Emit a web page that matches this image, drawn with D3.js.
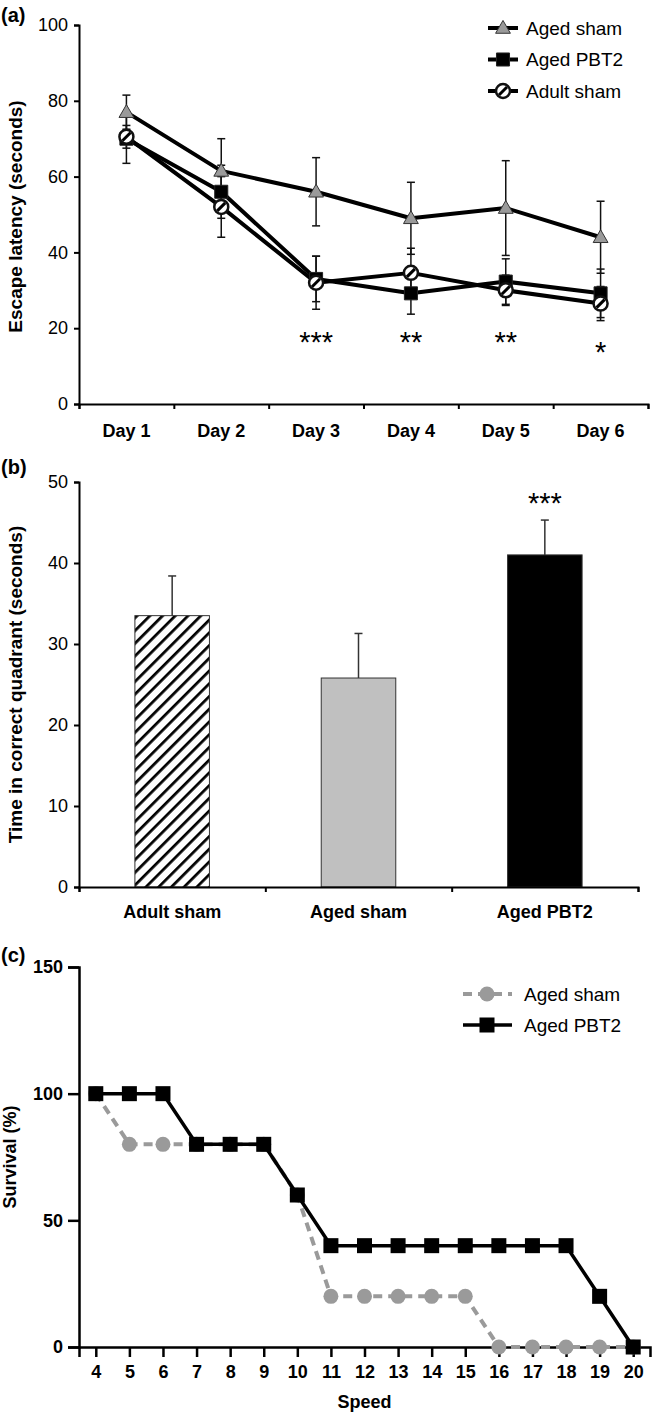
<!DOCTYPE html>
<html><head><meta charset="utf-8">
<script src="https://cdn.jsdelivr.net/npm/d3@7"></script>
<style>
body{margin:0;background:#fff;}
text{font-family:"Liberation Sans",Arial,sans-serif;fill:#000;}
</style>
</head><body>
<svg id="chart" width="653" height="1414"></svg>
<script>
// ---------- Panel (a) data ----------
const days = ["Day 1","Day 2","Day 3","Day 4","Day 5","Day 6"];
const agedSham    = [77, 61.5, 56, 49, 51.7, 44];
const agedShamErr = [4.5, 8.5, 9, 9.5, 12.5, 9.5];
const agedPBT2    = [70, 56, 33, 29.2, 32.3, 29.2];
const agedPBT2Err = [6.5, 7, 6, 5.5, 6, 6.4];
const adultSham   = [70.5, 52, 32, 34.6, 30, 26.5];
const adultShamErr= [3, 8, 7, 6.5, 4, 4.5];
const sigA = ["", "", "***", "**", "**", "*"];
const ticksA = [0, 20, 40, 60, 80, 100];

// ---------- Panel (b) data ----------
const groupsB = ["Adult sham", "Aged sham", "Aged PBT2"];
const quadrantTime = [33.5, 25.8, 41];
const quadrantErr  = [4.9, 5.5, 4.3];
const sigB = ["", "", "***"];
const ticksB = [0, 10, 20, 30, 40, 50];

// ---------- Panel (c) data ----------
const speeds = [4,5,6,7,8,9,10,11,12,13,14,15,16,17,18,19,20];
const survAgedSham = [100,80,80,80,80,80,60,20,20,20,20,20,0,0,0,0,0];
const survAgedPBT2 = [100,100,100,80,80,80,60,40,40,40,40,40,40,40,40,20,0];
const ticksC = [0, 50, 100, 150];

const svg = d3.select("#chart");
const defs = svg.append("defs");
const FONT = '"Liberation Sans",Arial,sans-serif';

function styleAxis(g, w) {
  g.select(".domain").attr("stroke", "#000").attr("stroke-width", w);
  g.selectAll(".tick line").attr("stroke", "#000").attr("stroke-width", w);
  g.selectAll("text").attr("font-family", FONT).attr("fill", "#000");
}

// ================= PANEL (a) =================
{
  const L = 79, R = 648, T = 25, B = 404;
  const x = d3.scaleBand().domain(days).range([L, R]).padding(0);
  const xb = d3.scaleLinear().domain([0, days.length]).range([L, R]);
  const y = d3.scaleLinear().domain([0, 100]).range([B, T]);

  const gy = svg.append("g").attr("transform", `translate(${L},0)`)
    .call(d3.axisLeft(y).tickValues(ticksA).tickSize(5).tickPadding(6));
  styleAxis(gy, 2);
  gy.selectAll("text").attr("font-size", 18);

  const gx = svg.append("g").attr("transform", `translate(0,${B})`)
    .call(d3.axisBottom(xb).tickValues(d3.range(0, days.length + 1)).tickSize(5).tickFormat(""));
  styleAxis(gx, 2);
  svg.append("g").selectAll("text").data(days).join("text")
    .attr("x", d => x(d) + x.bandwidth() / 2).attr("y", 437)
    .attr("text-anchor", "middle").attr("font-size", 18).attr("font-weight", "bold")
    .text(d => d);

  svg.append("text").attr("transform", `translate(22,${(T + B) / 2 + 2}) rotate(-90)`)
    .attr("text-anchor", "middle").attr("font-size", 19).attr("font-weight", "bold")
    .text("Escape latency (seconds)");
  svg.append("text").attr("x", 1).attr("y", 22).attr("font-size", 20).attr("font-weight", "bold").text("(a)");

  const cx = i => x(days[i]) + x.bandwidth() / 2;
  const series = [
    {name: "Aged sham", v: agedSham, e: agedShamErr, m: "tri"},
    {name: "Aged PBT2", v: agedPBT2, e: agedPBT2Err, m: "sq"},
    {name: "Adult sham", v: adultSham, e: adultShamErr, m: "circ"}
  ];
  // error bars
  series.forEach(s => {
    const g = svg.append("g").attr("stroke", "#111").attr("stroke-width", 1.5);
    s.v.forEach((v, i) => {
      const x0 = cx(i), y1 = y(v + s.e[i]), y2 = y(v - s.e[i]);
      g.append("line").attr("x1", x0).attr("x2", x0).attr("y1", y1).attr("y2", y2);
      g.append("line").attr("x1", x0 - 4).attr("x2", x0 + 4).attr("y1", y1).attr("y2", y1);
      g.append("line").attr("x1", x0 - 4).attr("x2", x0 + 4).attr("y1", y2).attr("y2", y2);
    });
  });
  const line = d3.line().x((d, i) => cx(i)).y(d => y(d));
  series.forEach(s => {
    svg.append("path").datum(s.v).attr("d", line).attr("fill", "none")
      .attr("stroke", "#000").attr("stroke-width", 4).attr("stroke-linejoin", "round");
  });
  function drawMarker(g, type, px, py) {
    if (type === "tri") {
      g.append("path").attr("transform", `translate(${px},${py + 1})`)
        .attr("d", d3.symbol().type(d3.symbolTriangle).size(95)())
        .attr("fill", "#9a9a9a").attr("stroke", "#333").attr("stroke-width", 1);
    } else if (type === "sq") {
      g.append("path").attr("transform", `translate(${px},${py})`)
        .attr("d", d3.symbol().type(d3.symbolSquare).size(170)())
        .attr("fill", "#000").attr("stroke", "#222").attr("stroke-width", 1);
    } else {
      g.append("circle").attr("cx", px).attr("cy", py).attr("r", 7)
        .attr("fill", "#fff").attr("stroke", "#111").attr("stroke-width", 2.5);
      g.append("line").attr("x1", px - 4).attr("y1", py + 4).attr("x2", px + 4).attr("y2", py - 4)
        .attr("stroke", "#000").attr("stroke-width", 3);
    }
  }
  series.forEach(s => {
    const g = svg.append("g");
    s.v.forEach((v, i) => drawMarker(g, s.m, cx(i), y(v)));
  });
  // significance
  svg.append("g").selectAll("text").data(sigA).join("text")
    .attr("x", (d, i) => cx(i)).attr("y", (d, i) => i === 5 ? 362 : 352)
    .attr("text-anchor", "middle").attr("font-size", 29).text(d => d);

  // legend
  const lg = svg.append("g");
  series.forEach((s, i) => {
    const ly = 28 + i * 31.5;
    lg.append("line").attr("x1", 488).attr("x2", 518).attr("y1", ly).attr("y2", ly)
      .attr("stroke", "#000").attr("stroke-width", 4);
    drawMarker(lg, s.m, 503, ly);
    lg.append("text").attr("x", 526).attr("y", ly).attr("dy", "0.35em")
      .attr("font-size", 19).text(s.name);
  });
}

// ================= PANEL (b) =================
{
  const L = 79, R = 638, T = 482, B = 887;
  const x = d3.scaleBand().domain(groupsB).range([L, R]).paddingInner(0.6).paddingOuter(0.3);
  const xb = d3.scaleLinear().domain([0, groupsB.length]).range([L, R]);
  const y = d3.scaleLinear().domain([0, 50]).range([B, T]);

  const pat = defs.append("pattern").attr("id", "hatch").attr("patternUnits", "userSpaceOnUse")
    .attr("width", 9).attr("height", 9).attr("patternTransform", "rotate(45)");
  pat.append("rect").attr("width", 9).attr("height", 9).attr("fill", "#fff");
  pat.append("line").attr("x1", 0).attr("y1", 0).attr("x2", 0).attr("y2", 9)
    .attr("stroke", "#000").attr("stroke-width", 5.5);

  const fills = ["url(#hatch)", "#c0c0c0", "#000"];
  svg.append("g").selectAll("rect").data(quadrantTime).join("rect")
    .attr("x", (d, i) => x(groupsB[i])).attr("width", x.bandwidth())
    .attr("y", d => y(d)).attr("height", d => B - y(d))
    .attr("fill", (d, i) => fills[i]).attr("stroke", "#333").attr("stroke-width", 1);

  const eg = svg.append("g").attr("stroke", "#333").attr("stroke-width", 1.5);
  quadrantTime.forEach((v, i) => {
    const x0 = x(groupsB[i]) + x.bandwidth() / 2, y1 = y(v + quadrantErr[i]);
    eg.append("line").attr("x1", x0).attr("x2", x0).attr("y1", y(v)).attr("y2", y1);
    eg.append("line").attr("x1", x0 - 4).attr("x2", x0 + 4).attr("y1", y1).attr("y2", y1);
  });

  const gy = svg.append("g").attr("transform", `translate(${L},0)`)
    .call(d3.axisLeft(y).tickValues(ticksB).tickSize(5).tickPadding(6));
  styleAxis(gy, 2);
  gy.selectAll("text").attr("font-size", 18);
  const gx = svg.append("g").attr("transform", `translate(0,${B})`)
    .call(d3.axisBottom(xb).tickValues(d3.range(0, groupsB.length + 1)).tickSize(5).tickFormat(""));
  styleAxis(gx, 2);
  svg.append("g").selectAll("text").data(groupsB).join("text")
    .attr("x", d => x(d) + x.bandwidth() / 2).attr("y", 918)
    .attr("text-anchor", "middle").attr("font-size", 18).attr("font-weight", "bold").text(d => d);

  svg.append("g").selectAll("text").data(sigB).join("text")
    .attr("x", (d, i) => x(groupsB[i]) + x.bandwidth() / 2).attr("y", 513)
    .attr("text-anchor", "middle").attr("font-size", 29).text(d => d);

  svg.append("text").attr("transform", `translate(22,${(T + B) / 2}) rotate(-90)`)
    .attr("text-anchor", "middle").attr("font-size", 19).attr("font-weight", "bold")
    .text("Time in correct quadrant (seconds)");
  svg.append("text").attr("x", 1).attr("y", 474).attr("font-size", 20).attr("font-weight", "bold").text("(b)");
}

// ================= PANEL (c) =================
{
  const L = 79, R = 650, T = 967, B = 1347;
  const x = d3.scaleLinear().domain([3.5, 20.5]).range([L, R]);
  const y = d3.scaleLinear().domain([0, 150]).range([B, T]);

  const gy = svg.append("g").attr("transform", `translate(${L},0)`)
    .call(d3.axisLeft(y).tickValues(ticksC).tickSize(11).tickPadding(5));
  styleAxis(gy, 2.5);
  gy.selectAll("text").attr("font-size", 18).attr("font-weight", "bold");
  const gx = svg.append("g").attr("transform", `translate(0,${B})`)
    .call(d3.axisBottom(x).tickValues(speeds).tickSize(10).tickPadding(8).tickFormat(d3.format("d")));
  styleAxis(gx, 2.5);
  gx.selectAll("text").attr("font-size", 18).attr("font-weight", "bold");

  svg.append("text").attr("x", (L + R) / 2).attr("y", 1408).attr("text-anchor", "middle")
    .attr("font-size", 18).attr("font-weight", "bold").text("Speed");
  svg.append("text").attr("transform", `translate(16,1157) rotate(-90)`)
    .attr("text-anchor", "middle").attr("font-size", 18).attr("font-weight", "bold").text("Survival (%)");
  svg.append("text").attr("x", 1).attr("y", 962).attr("font-size", 20).attr("font-weight", "bold").text("(c)");

  const line = d3.line().x((d, i) => x(speeds[i])).y(d => y(d));
  svg.append("path").datum(survAgedSham).attr("d", line).attr("fill", "none")
    .attr("stroke", "#9a9a9a").attr("stroke-width", 4).attr("stroke-dasharray", "9,6");
  svg.append("g").selectAll("circle").data(survAgedSham).join("circle")
    .attr("cx", (d, i) => x(speeds[i])).attr("cy", d => y(d)).attr("r", 7.5).attr("fill", "#9a9a9a");
  svg.append("path").datum(survAgedPBT2).attr("d", line).attr("fill", "none")
    .attr("stroke", "#000").attr("stroke-width", 3.5);
  svg.append("g").selectAll("rect").data(survAgedPBT2).join("rect")
    .attr("x", (d, i) => x(speeds[i]) - 7.5).attr("y", d => y(d) - 7.5)
    .attr("width", 15).attr("height", 15).attr("fill", "#000");

  const lg = svg.append("g");
  lg.append("line").attr("x1", 463).attr("x2", 512).attr("y1", 994).attr("y2", 994)
    .attr("stroke", "#9a9a9a").attr("stroke-width", 4).attr("stroke-dasharray", "9,6");
  lg.append("circle").attr("cx", 487).attr("cy", 994).attr("r", 7.5).attr("fill", "#9a9a9a");
  lg.append("line").attr("x1", 463).attr("x2", 512).attr("y1", 1025).attr("y2", 1025)
    .attr("stroke", "#000").attr("stroke-width", 3.5);
  lg.append("rect").attr("x", 479.5).attr("y", 1017.5).attr("width", 15).attr("height", 15).attr("fill", "#000");
  lg.append("text").attr("x", 524).attr("y", 994).attr("dy", "0.35em").attr("font-size", 19).text("Aged sham");
  lg.append("text").attr("x", 524).attr("y", 1025).attr("dy", "0.35em").attr("font-size", 19).text("Aged PBT2");
}
</script>
</body></html>
